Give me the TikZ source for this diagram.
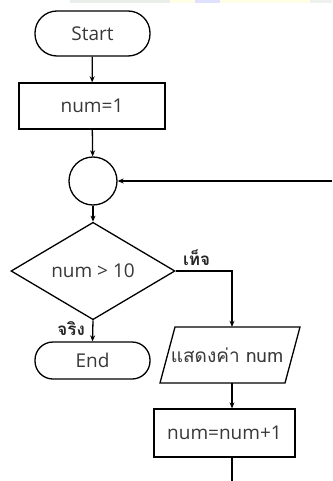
\documentclass[tikz,border=0pt]{standalone}
\usepackage{fontspec}
\setmainfont{Open Sans}
\newfontfamily\thaifont[Script=Thai]{Loma}
\usetikzlibrary{shapes.geometric,arrows.meta}
\tikzset{
  line/.style={line width=1.3pt, draw=black},
  arr/.style={line, -{Stealth[length=6pt,width=5pt]}},
  txt/.style={text=black!78, font=\fontsize{19}{21}\selectfont},
  termbox/.style={line, rounded corners=18pt, minimum width=115pt, txt, inner sep=0pt},
  procbox/.style={line, rectangle, txt, inner sep=0pt},
  lbl/.style={font=\thaifont\bfseries\fontsize{17}{19}\selectfont, text=black!85}
}
\begin{document}
\begin{tikzpicture}[x=1pt,y=-1pt]
\useasboundingbox (0,0) rectangle (332,481);
% faint background strip at top
\fill[green!10!gray!15] (70,0) rectangle (170,3);
\fill[yellow!10] (170,0) rectangle (195,3);
\fill[blue!12] (195,0) rectangle (220,3);
\fill[yellow!10] (220,0) rectangle (310,3);
\fill[green!8!gray!12] (310,0) rectangle (332,3);

\node[termbox, rounded corners=22pt, minimum height=45pt] (start) at (92.5,33.5) {Start};
\node[procbox, minimum width=146pt, minimum height=46pt] (init) at (92,106) {num=1};
\node[line, circle, minimum size=48pt, inner sep=0pt] (conn) at (93,181) {};
\node[line, diamond, minimum width=164pt, minimum height=84pt, inner sep=0pt, txt] (dec) at (93,271) {num > 10};
\node[minimum width=110pt, minimum height=56pt, inner sep=0pt, txt] (io) at (227,355) {\thaifont แสดงค่า num};
\node[termbox, minimum height=37pt] (endn) at (92.5,360.5) {End};
\draw[line] (175,327) -- (300,327) -- (285,383) -- (160,383) -- cycle;
\node[procbox, minimum width=141pt, minimum height=48pt] (upd) at (224.5,433) {num=num+1};
\coordinate (right) at (332,181);
\coordinate (bot) at (232,481);

\draw[arr] (start) -- (init);
\draw[arr] (init) -- (conn);
\draw[arr] (right) -- (conn.east);
\draw[arr] (conn) -- (dec.north);
\draw[arr] (dec.south) -- node[lbl, left=4pt, pos=0.4] {จริง} (endn.north);
\draw[arr] (dec.east) -- node[lbl, above=1pt, pos=0.37] {เท็จ} (bot |- dec.east) -- (bot |- io.north);
\draw[arr] (bot |- io.south) -- (bot |- upd.north);
\draw[line] (bot |- upd.south) -- (bot);
\end{tikzpicture}
\end{document}
